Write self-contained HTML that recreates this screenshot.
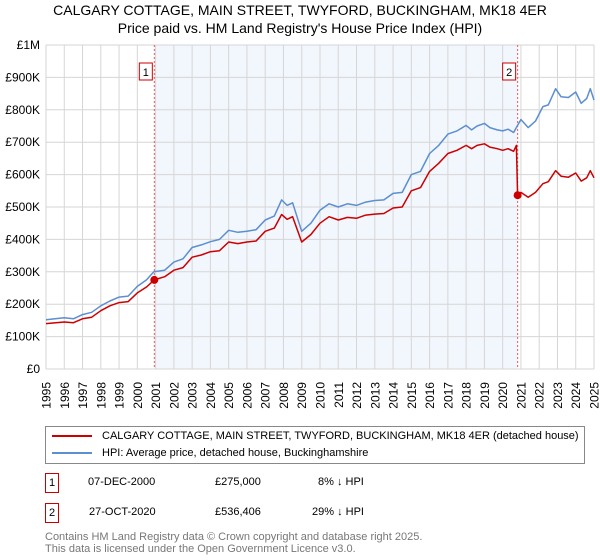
<!DOCTYPE html>
<html><head><meta charset="utf-8"><style>
body{margin:0;background:#fff;font-family:"Liberation Sans","DejaVu Sans",sans-serif;}
#wrap{position:relative;width:600px;height:560px;overflow:hidden}
.t{position:absolute;white-space:nowrap;color:#000}
</style></head><body>
<div id="wrap">
<div class="t" style="left:0;width:600px;text-align:center;top:1px;font-size:14px;line-height:18px">CALGARY COTTAGE, MAIN STREET, TWYFORD, BUCKINGHAM, MK18 4ER<br>Price paid vs. HM Land Registry's House Price Index (HPI)</div>
<svg id="chart" width="600" height="420" style="position:absolute;left:0;top:0"></svg>
<div style="position:absolute;left:45px;top:426px;width:538px;height:36px;border:1px solid #888;font-size:11px">
 <div style="position:absolute;left:6px;top:3px"><span style="display:inline-block;width:40px;height:2px;background:#cc0000;vertical-align:middle;margin-right:10px"></span>CALGARY COTTAGE, MAIN STREET, TWYFORD, BUCKINGHAM, MK18 4ER (detached house)</div>
 <div style="position:absolute;left:6px;top:20px"><span style="display:inline-block;width:40px;height:2px;background:#5b8fd0;vertical-align:middle;margin-right:10px"></span>HPI: Average price, detached house, Buckinghamshire</div>
</div>
<div style="position:absolute;left:0;top:473px;font-size:11px;width:600px">
 <span style="position:absolute;left:45px;top:0;border:1px solid #cc0000;width:12px;height:18px;text-align:center;line-height:18px">1</span>
 <span class="t" style="left:88px;top:3px">07-DEC-2000</span><span class="t" style="left:215px;top:3px">£275,000</span><span class="t" style="left:318px;top:3px">8% ↓ HPI</span></div>
<div style="position:absolute;left:0;top:503px;font-size:11px;width:600px">
 <span style="position:absolute;left:45px;top:0;border:1px solid #cc0000;width:12px;height:18px;text-align:center;line-height:18px">2</span>
 <span class="t" style="left:89px;top:3px">27-OCT-2020</span><span class="t" style="left:215px;top:3px">£536,406</span><span class="t" style="left:312px;top:3px">29% ↓ HPI</span></div>
<div class="t" style="left:45px;top:531px;font-size:11px;color:#777;line-height:12px">Contains HM Land Registry data © Crown copyright and database right 2025.<br>This data is licensed under the Open Government Licence v3.0.</div>
</div>
<script>
const hpiYears=[1995,1996,1996.5,1997,1997.5,1998,1998.5,1999,1999.5,2000,2000.5,2000.9,2001.5,2002,2002.5,2003,2003.5,2004,2004.5,2005,2005.5,2006,2006.5,2007,2007.5,2007.9,2008.2,2008.5,2009,2009.5,2010,2010.5,2011,2011.5,2012,2012.5,2013,2013.5,2014,2014.5,2015,2015.5,2016,2016.5,2017,2017.5,2018,2018.3,2018.6,2019,2019.3,2019.7,2020,2020.3,2020.6,2021,2021.4,2021.8,2022.2,2022.5,2022.9,2023.2,2023.6,2024,2024.3,2024.6,2024.8,2025];
const hpiValues=[152,158,155,168,175,195,210,222,225,255,275,300,305,330,340,375,383,393,400,428,422,425,430,460,472,522,505,513,425,450,490,510,500,510,505,515,520,522,542,545,600,610,665,690,725,735,752,738,750,758,745,738,735,740,730,770,745,765,810,815,865,840,838,855,820,835,865,830];
const priceYears=[1995,1996,1996.5,1997,1997.5,1998,1998.5,1999,1999.5,2000,2000.5,2000.93,2001.5,2002,2002.5,2003,2003.5,2004,2004.5,2005,2005.5,2006,2006.5,2007,2007.5,2007.9,2008.2,2008.5,2009,2009.5,2010,2010.5,2011,2011.5,2012,2012.5,2013,2013.5,2014,2014.5,2015,2015.5,2016,2016.5,2017,2017.5,2018,2018.3,2018.6,2019,2019.3,2019.7,2020,2020.3,2020.6,2020.75,2020.82,2021,2021.4,2021.8,2022.2,2022.5,2022.9,2023.2,2023.6,2024,2024.3,2024.6,2024.8,2025];
const priceValues=[140,145,143,155,160,180,195,205,208,235,253,275,285,305,313,345,352,362,365,392,387,392,395,425,435,477,462,470,392,415,450,470,460,468,465,475,478,480,497,500,550,560,610,635,665,675,690,680,690,695,685,680,675,680,672,690,536,545,530,545,572,578,612,595,592,605,580,590,612,590];
const saleYears=[2000.93,2020.82];
const saleValues=[275,536.406];
const saleLabels=["1","2"];
const yTickValues=[0,100,200,300,400,500,600,700,800,900,1000];
const yTickLabels=["£0","£100K","£200K","£300K","£400K","£500K","£600K","£700K","£800K","£900K","£1M"];
const xTickYears=[1995,1996,1997,1998,1999,2000,2001,2002,2003,2004,2005,2006,2007,2008,2009,2010,2011,2012,2013,2014,2015,2016,2017,2018,2019,2020,2021,2022,2023,2024,2025];

const NS="http://www.w3.org/2000/svg";
const svg=document.getElementById('chart');
const L=46,R=594,T=45,B=369;
const xs=y=>L+(y-1995)/30*(R-L);
const ys=v=>B-v/1000*(B-T);
function mk(tag,attrs,parent){const e=document.createElementNS(NS,tag);for(const k in attrs)e.setAttribute(k,attrs[k]);(parent||svg).appendChild(e);return e;}
let e;
e=mk('rect',{x:xs(saleYears[0]),y:T,width:xs(saleYears[1])-xs(saleYears[0]),height:B-T,fill:'#f2f6fd'});


xTickYears.forEach((yr,i)=>{
 e=mk('line',{x1:xs(yr),x2:xs(yr),y1:T,y2:B,stroke:'#d6d6d6','stroke-width':1});
 
 
 const tx=xs(yr)+4.5;
 e=mk('text',{x:tx,y:382,'text-anchor':'end','font-size':12,fill:'#000',transform:'rotate(-90 '+tx+' 382)'});
 e.textContent=yr;
 
 
});
yTickValues.forEach((v,i)=>{
 e=mk('line',{x1:L,x2:R,y1:ys(v),y2:ys(v),stroke:'#d6d6d6','stroke-width':1});
 
 
 e=mk('text',{x:40,y:ys(v)+4,'text-anchor':'end','font-size':12,fill:'#000'});
 e.textContent=yTickLabels[i];
 
 
});
saleYears.forEach((yr,i)=>{
 e=mk('line',{x1:xs(yr),x2:xs(yr),y1:T,y2:B,stroke:'#e55','stroke-width':1,'stroke-dasharray':'2,2'});
 
 
});
function path(xa,va,col,name){
 const d=xa.map((x,i)=>(i?'L':'M')+xs(x).toFixed(1)+','+ys(va[i]).toFixed(1)).join('');
 const p=mk('path',{d:d,fill:'none',stroke:col,'stroke-width':1.5,'stroke-linejoin':'round'});
 
 
}
path(hpiYears,hpiValues,'#5b8fd0','hpi-line');
path(priceYears,priceValues,'#cc0000','price-line');
saleYears.forEach((yr,i)=>{
 e=mk('circle',{cx:xs(yr),cy:ys(saleValues[i]),r:4,fill:'#cc0000'});
 
 
 const bx=xs(yr)-15;
 e=mk('rect',{x:bx,y:63,width:13,height:17,fill:'#fff',stroke:'#cc0000'});
 
 
 e=mk('text',{x:bx+6.5,y:76,'text-anchor':'middle','font-size':11});
 e.textContent=saleLabels[i];
 
 
});
</script>
</body></html>
